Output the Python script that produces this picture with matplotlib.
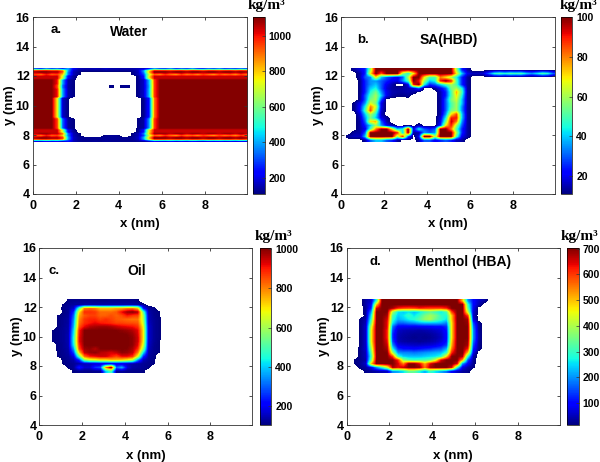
import numpy as np
import matplotlib
matplotlib.use('Agg')
import matplotlib.pyplot as plt

plt.rcParams['font.family'] = ['Liberation Sans', 'DejaVu Sans']
plt.rcParams['font.weight'] = 'bold'

n = np.nan

# Water: rows are 0.125 nm tall, columns 0.25 nm wide
w_edge = [330, 280, 380, 300, 350, 260, 400, 220, 160, 150, 150, 160, 150, 170, 150, 150, 150, 150, 150, 160, 170, 260, 400, 320, 300, 380, 280, 340, 300, 390, 300, 280, 350, 310, 380, 290, 330, 300, 360, 320]
w_edge_b = [210, 190, 240, 200, 220, 180, 250, 160, 130, 125, 125, 130, 125, 135, 125, 125, 125, 125, 125, 130, 140, 180, 250, 210, 200, 240, 190, 220, 200, 245, 200, 190, 225, 205, 240, 195, 215, 200, 230, 210]
w_red1 = [1050, 1080, 1080, 1050, 1050, 950, 400, 170, 130, 125, 125, 125, 125, 130, 130, 130, 125, 125, 130, 170, 400, 800, 1080, 1080, 1080, 1050, 1080, 1080, 1050, 1080, 1080, 1050, 1080, 1080, 1050, 1080, 1080, 1050, 1080, 1050]
w_red1h = [1050, 1080, 1080, 1050, 1050, 900, 350, 160, 120, n, n, n, n, n, n, n, n, n, 120, 160, 350, 800, 1080, 1080, 1080, 1050, 1080, 1080, 1050, 1080, 1080, 1050, 1080, 1080, 1050, 1080, 1080, 1050, 1080, 1050]
w_band = [950, 900, 1000, 920, 950, 800, 350, 160, 118, n, n, n, n, n, n, n, n, n, 118, 160, 300, 700, 920, 880, 960, 900, 860, 950, 890, 920, 870, 950, 900, 860, 940, 890, 920, 870, 950, 900]
w_bandb = [950, 900, 1000, 920, 950, 800, 350, 160, 118, n, n, n, n, 125, 130, 130, n, n, 118, 160, 300, 700, 920, 880, 960, 900, 860, 950, 890, 920, 870, 950, 900, 860, 940, 890, 920, 870, 950, 900]
w_red2 = [1040, 1040, 1040, 1040, 1040, 700, 220, 135, n, n, n, n, n, n, n, n, n, n, n, 125, 250, 760, 1040, 1040, 1040, 1040, 1040, 1040, 1040, 1040, 1040, 1040, 1040, 1040, 1040, 1040, 1040, 1040, 1040, 1040]
w_upper = [1100, 1100, 1100, 1100, 1000, 400, 145, 118, n, n, n, n, n, n, n, n, n, n, n, 125, 170, 420, 960, 1100, 1100, 1100, 1100, 1100, 1100, 1100, 1100, 1100, 1100, 1100, 1100, 1100, 1100, 1100, 1100, 1100]
w_speck = [1100, 1100, 1100, 1100, 950, 350, 140, 115, n, n, n, n, n, n, 125, n, 125, 125, n, 125, 170, 400, 960, 1100, 1100, 1100, 1100, 1100, 1100, 1100, 1100, 1100, 1100, 1100, 1100, 1100, 1100, 1100, 1100, 1100]
w_mid = [1100, 1100, 1100, 1100, 750, 170, 115, n, n, n, n, n, n, n, n, n, n, n, n, n, 125, 250, 900, 1100, 1100, 1100, 1100, 1100, 1100, 1100, 1100, 1100, 1100, 1100, 1100, 1100, 1100, 1100, 1100, 1100]
w_low = [1100, 1100, 1100, 1100, 950, 330, 135, 115, n, n, n, n, n, n, n, n, n, n, n, 118, 140, 380, 960, 1100, 1100, 1100, 1100, 1100, 1100, 1100, 1100, 1100, 1100, 1100, 1100, 1100, 1100, 1100, 1100, 1100]
water = [w_edge, w_red1, w_red1h, w_band, w_red2, w_red2, w_upper, w_upper, w_upper, w_speck,
         w_speck, w_upper, w_upper, w_upper, w_upper, w_upper, w_mid, w_mid, w_mid, w_mid,
         w_mid, w_mid, w_mid, w_mid, w_mid, w_mid, w_mid, w_low, w_low, w_low,
         w_low, w_low, w_low, w_red2, w_red2, w_red1h, w_bandb, w_red1, w_red1, w_edge_b]

# SA(HBD): 0.25 nm rows, the tail to the right sits in the second row
sa = [
    [n, n, 14, 18, 25, 60, 100, 100, 100, 100, 100, 100, 100, 100, 100, 100, 100, 100, 100, 100, 100, 60, 25, 15],
    [n, n, n, 14, 25, 70, 100, 85, 100, 100, 100, 60, 45, 70, 100, 100, 100, 100, 100, 100, 100, 70, 40, 20, 16, 16, 18, 30, 45, 50, 45, 50, 48, 50, 40, 35, 42, 50, 45, 30],
    [n, n, n, 14, 30, 35, 70, 40, 30, 25, 20, 30, 60, 100, 100, 70, 50, 50, 80, 70, 60, 45, 25, 14],
    [n, n, n, 12, 25, 35, 35, 30, 25, 20, 20, 35, 50, 100, 90, 60, 40, 45, 90, 100, 90, 50, 25, 14],
    [n, n, n, 12, 25, 35, 40, 30, 20, 15, n, n, 20, 90, 100, 45, 25, 30, 40, 50, 60, 50, 25, 14],
    [n, n, n, 12, 25, 40, 45, 30, 18, 14, 13, 14, 15, 18, 30, n, n, 13, 20, 30, 55, 60, 45, 14],
    [n, n, n, 12, 25, 45, 55, 35, 20, 15, 14, 14, 15, 14, n, n, n, n, 15, 25, 50, 75, 50, 14],
    [n, n, n, 12, 30, 50, 60, 40, 20, 14, 12, 12, 13, n, n, n, n, n, 15, 25, 50, 70, 45, 14],
    [n, n, n, 12, 30, 55, 60, 30, n, n, n, n, n, n, n, n, n, n, 14, 30, 55, 65, 40, 14],
    [n, n, 12, 20, 35, 65, 55, 20, n, n, n, n, n, n, n, n, n, n, 14, 30, 50, 60, 40, 14],
    [n, n, 12, 22, 45, 80, 65, 20, n, n, n, n, n, n, n, n, n, n, 14, 30, 50, 60, 35, 14],
    [n, n, 12, 22, 50, 85, 55, 18, n, n, n, n, n, n, n, n, n, n, 14, 30, 55, 60, 35, 14],
    [n, n, n, 18, 40, 60, 45, 16, n, n, n, n, n, n, n, n, n, n, 14, 35, 70, 85, 40, 14],
    [n, n, n, 15, 35, 55, 40, 20, 13, n, n, n, n, n, n, n, n, n, 18, 45, 90, 90, 40, 14],
    [n, n, n, 14, 30, 70, 75, 30, 15, n, n, n, n, n, n, n, n, n, 20, 55, 95, 80, 35, 14],
    [n, n, n, 14, 25, 40, 60, 35, 20, 14, n, n, n, n, 14, n, n, n, 25, 70, 90, 60, 30, 14],
    [n, n, n, 14, 20, 50, 80, 100, 100, 70, 40, 45, 100, 20, 45, 30, 25, 30, 100, 100, 80, 50, 25, 14],
    [n, n, 14, 14, 30, 100, 100, 100, 100, 100, 90, 40, 100, 14, 14, 35, 30, 35, 100, 100, 100, 60, 25, 14],
    [n, 14, 16, 16, 40, 100, 100, 100, 100, 100, 60, 90, 30, n, 20, 100, 100, 60, 100, 100, 100, 50, 20, 14],
    [n, n, n, n, 14, 30, 40, 40, 30, 25, 14, n, n, n, 14, 30, 30, 20, 25, 30, 25, 16, 14, n],
]

oil = [
    [n, n, n, n, n, 115, 120, 120, 120, 120, 115, 115, 115, 120, 120, 120, 120, 120, 110, n],
    [n, n, n, n, 110, 125, 130, 130, 135, 135, 135, 135, 135, 135, 135, 135, 135, 135, 130, 120],
    [n, n, n, n, 115, 130, 170, 500, 800, 820, 800, 740, 740, 740, 760, 760, 800, 800, 720, 230, 130, 115],
    [n, n, n, n, 110, 125, 260, 700, 880, 880, 870, 820, 820, 820, 840, 920, 980, 1000, 960, 520, 140, 120, 110],
    [n, n, n, 108, 115, 130, 310, 760, 840, 860, 860, 830, 830, 850, 830, 850, 900, 870, 860, 600, 150, 120, 110],
    [n, n, n, 110, 120, 135, 340, 790, 870, 890, 890, 860, 880, 860, 840, 830, 820, 810, 810, 620, 150, 125, 112],
    [n, n, n, 110, 120, 135, 360, 810, 880, 900, 920, 900, 890, 880, 860, 860, 850, 850, 840, 640, 160, 125, 112],
    [n, n, n, 110, 122, 140, 380, 840, 920, 960, 970, 980, 980, 970, 950, 930, 920, 910, 880, 680, 170, 125, 112],
    [n, n, 108, 115, 125, 140, 420, 890, 1000, 1003, 1003, 1003, 1003, 1003, 1000, 990, 980, 960, 920, 700, 170, 125, 112],
    [n, n, 108, 115, 125, 145, 440, 900, 1003, 1003, 1003, 1003, 1003, 1003, 1003, 1003, 1000, 980, 930, 700, 170, 125, 112],
    [n, n, 108, 115, 125, 145, 460, 910, 1003, 1003, 1003, 1003, 1003, 1003, 1003, 1003, 1003, 990, 940, 700, 170, 125, 112],
    [n, n, 108, 115, 125, 145, 460, 910, 1003, 1003, 1003, 1003, 1003, 1003, 1003, 1003, 1003, 990, 940, 690, 165, 125, 110],
    [n, n, n, 112, 122, 145, 440, 880, 1000, 1003, 1003, 1003, 1003, 1003, 1003, 1003, 1003, 990, 920, 650, 160, 120, 110],
    [n, n, n, 112, 122, 140, 360, 850, 980, 990, 960, 1000, 1003, 1003, 1003, 1003, 1000, 970, 880, 580, 150, 120, 110],
    [n, n, n, 110, 120, 135, 280, 720, 950, 980, 990, 960, 950, 930, 950, 990, 980, 950, 800, 420, 140, 118, 108],
    [n, n, n, 108, 118, 128, 190, 520, 820, 900, 920, 940, 940, 900, 860, 920, 920, 880, 660, 260, 130, 115],
    [n, n, n, n, 112, 125, 140, 240, 560, 640, 660, 700, 700, 740, 740, 720, 680, 620, 330, 150, 125, 112],
    [n, n, n, n, 110, 118, 125, 135, 150, 155, 160, 170, 170, 170, 170, 165, 155, 140, 130, 125, 118, 110],
    [n, n, n, n, n, 115, 125, 240, 170, 170, 260, 290, 800, 1003, 300, 380, 180, 135, 130, 125, 115, n],
    [n, n, n, n, n, n, 112, 118, 118, 115, 118, 118, 400, 500, 125, 130, 118, 115, 115, 112, n, n],
]

menthol = [
    [n, n, n, 40, 60, 300, 703, 703, 703, 703, 703, 703, 703, 703, 703, 703, 703, 703, 703, 703, 703, 500, 200, 100, 60, 40],
    [n, n, n, 40, 90, 500, 703, 703, 703, 703, 703, 703, 703, 703, 703, 703, 703, 703, 703, 703, 703, 703, 300, 100, 50, n],
    [n, n, n, 30, 120, 650, 703, 703, 680, 620, 600, 590, 600, 620, 610, 600, 600, 600, 620, 703, 703, 703, 340, 90, n],
    [n, n, n, 30, 200, 703, 703, 703, 400, 260, 240, 260, 230, 260, 300, 330, 300, 260, 320, 600, 703, 703, 420, 70, n],
    [n, n, n, 25, 260, 703, 703, 680, 320, 240, 260, 300, 260, 300, 360, 390, 360, 300, 280, 500, 703, 703, 600, 60, n],
    [n, n, 20, 40, 300, 703, 703, 650, 300, 220, 240, 270, 290, 330, 380, 400, 340, 300, 260, 500, 703, 703, 680, 80, n],
    [n, n, 20, 50, 350, 703, 703, 640, 260, 170, 170, 190, 200, 220, 230, 230, 230, 220, 190, 480, 703, 703, 690, 150, 30],
    [n, n, 20, 60, 420, 703, 703, 640, 180, 90, 85, 85, 80, 85, 90, 95, 100, 100, 130, 480, 703, 703, 700, 180, 35],
    [n, n, 20, 60, 450, 703, 703, 620, 150, 60, 50, 45, 45, 40, 45, 50, 60, 70, 110, 480, 703, 703, 700, 200, 35],
    [n, n, 20, 60, 450, 703, 703, 620, 130, 50, 40, 35, 30, 30, 30, 35, 45, 60, 100, 480, 703, 703, 700, 200, 40],
    [n, n, 20, 60, 450, 703, 703, 620, 130, 45, 35, 30, 25, 30, 25, 30, 40, 55, 100, 480, 703, 703, 700, 200, 40],
    [n, n, 20, 60, 450, 703, 703, 640, 150, 50, 40, 35, 35, 30, 35, 40, 50, 70, 110, 500, 703, 703, 690, 180, 35],
    [n, n, 20, 60, 420, 703, 703, 660, 200, 80, 70, 65, 60, 60, 65, 70, 80, 100, 140, 520, 703, 703, 680, 150, 30],
    [n, n, 25, 60, 380, 703, 703, 680, 280, 130, 110, 110, 100, 110, 120, 130, 150, 160, 220, 560, 703, 703, 620, 120, 30],
    [n, n, 25, 50, 340, 703, 703, 700, 400, 200, 190, 190, 180, 190, 200, 210, 220, 230, 300, 620, 703, 703, 500, 80, n],
    [n, n, 25, 50, 300, 703, 703, 703, 600, 300, 240, 230, 230, 230, 240, 250, 260, 290, 480, 703, 703, 680, 300, 40, n],
    [n, 20, 25, 40, 350, 703, 703, 703, 703, 620, 380, 320, 300, 310, 320, 340, 440, 650, 703, 703, 703, 520, 150, 30, n],
    [n, 20, 30, 60, 500, 703, 703, 703, 703, 650, 550, 703, 703, 650, 520, 650, 703, 703, 703, 703, 650, 200, 90, 25, n],
    [n, n, 25, 35, 80, 200, 300, 420, 680, 640, 660, 703, 703, 690, 560, 680, 703, 703, 703, 650, 300, 80, 40, 20, n],
    [n, n, n, 25, 30, 40, 50, 60, 200, 220, 260, 340, 340, 280, 220, 300, 260, 220, 180, 100, 60, 35, 25, n, n],
]

x_ticks = [0, 2, 4, 6, 8]
y_ticks = [4, 6, 8, 10, 12, 14, 16]
water_ticks = [200, 400, 600, 800, 1000]
sa_ticks = [20, 40, 60, 80, 100]
oil_ticks = [200, 400, 600, 800, 1000]
menthol_ticks = [100, 200, 300, 400, 500, 600, 700]

W, H = 600, 462
fig = plt.figure(figsize=(W / 100, H / 100), dpi=100)

cmap = plt.get_cmap('jet').copy()
cmap.set_under('white')


def box(x0, x1, y0, y1):
    return [x0 / W, 1 - y1 / H, (x1 - x0) / W, (y1 - y0) / H]


def pad(grid, low):
    # rows stop where the density ends, empty cells sit just under the scale
    arr = np.array([list(r) + [n] * (40 - len(r)) for r in grid], dtype=float)
    arr[np.isnan(arr)] = low
    return arr


def panel(grid, pos, cpos, lims, cticks, letter, lpos, title, tpos, unit_x):
    ax = fig.add_axes(box(*pos))
    low = lims[0] - 0.02 * (lims[1] - lims[0])
    im = ax.imshow(pad(grid, low), cmap=cmap, vmin=lims[0], vmax=lims[1], aspect='auto',
                   extent=[0, 10, 7.5, 12.5], interpolation='bilinear',
                   interpolation_stage='data', origin='upper')
    ax.set_xlim(0, 9.95)
    ax.set_ylim(4, 16)
    ax.set_xticks(x_ticks)
    ax.set_yticks(y_ticks)
    ax.tick_params(direction='in', length=2, width=0.6, labelsize=9, color='#333333',
                   top=True, right=True)
    ax.tick_params(axis='x', pad=4)
    ax.tick_params(axis='y', pad=2)
    ax.set_xlabel('x (nm)', fontsize=9.5, fontweight='bold', labelpad=5)
    ax.set_ylabel('y (nm)', fontsize=9.5, fontweight='bold', labelpad=0)
    for s in ax.spines.values():
        s.set_linewidth(0.6)
        s.set_color('#333333')
    ax.text(lpos[0], lpos[1], letter, fontsize=9.5, fontweight='bold', ha='left', va='center')
    ax.text(tpos[0], tpos[1], title, fontsize=10, fontweight='bold', ha='center', va='center')
    cax = fig.add_axes(box(*cpos))
    cb = fig.colorbar(im, cax=cax)
    cb.set_ticks(cticks)
    cb.ax.tick_params(direction='in', length=2, width=0.5, labelsize=7.5, pad=3, color='#333333')
    cb.outline.set_linewidth(0.5)
    fig.text(unit_x / W, 1 - (pos[2] - 11.5) / H, 'kg/m³', fontsize=11, fontweight='bold',
             family='Liberation Serif', ha='center', va='center')


panel(water, (32.5, 247, 17, 194), (253, 264.5, 17, 194), (108, 1106), water_ticks,
      'a.', (0.85, 15.15), 'Water', (4.5, 14.98), 266)
panel(sa, (341, 555, 17, 194), (561, 572, 17, 194), (11, 100), sa_ticks,
      'b.', (0.75, 14.45), 'SA(HBD)', (5.0, 14.42), 578)
panel(oil, (39.5, 252, 248, 425), (259.5, 271, 248, 425), (106, 1003), oil_ticks,
      'c.', (0.4, 14.45), 'Oil', (4.55, 14.42), 273)
panel(menthol, (346.5, 560, 248, 425), (567, 578.5, 248, 425), (15, 703), menthol_ticks,
      'd.', (1.05, 15.05), 'Menthol (HBA)', (5.45, 15.05), 579)

fig.savefig('out.png', dpi=100)
